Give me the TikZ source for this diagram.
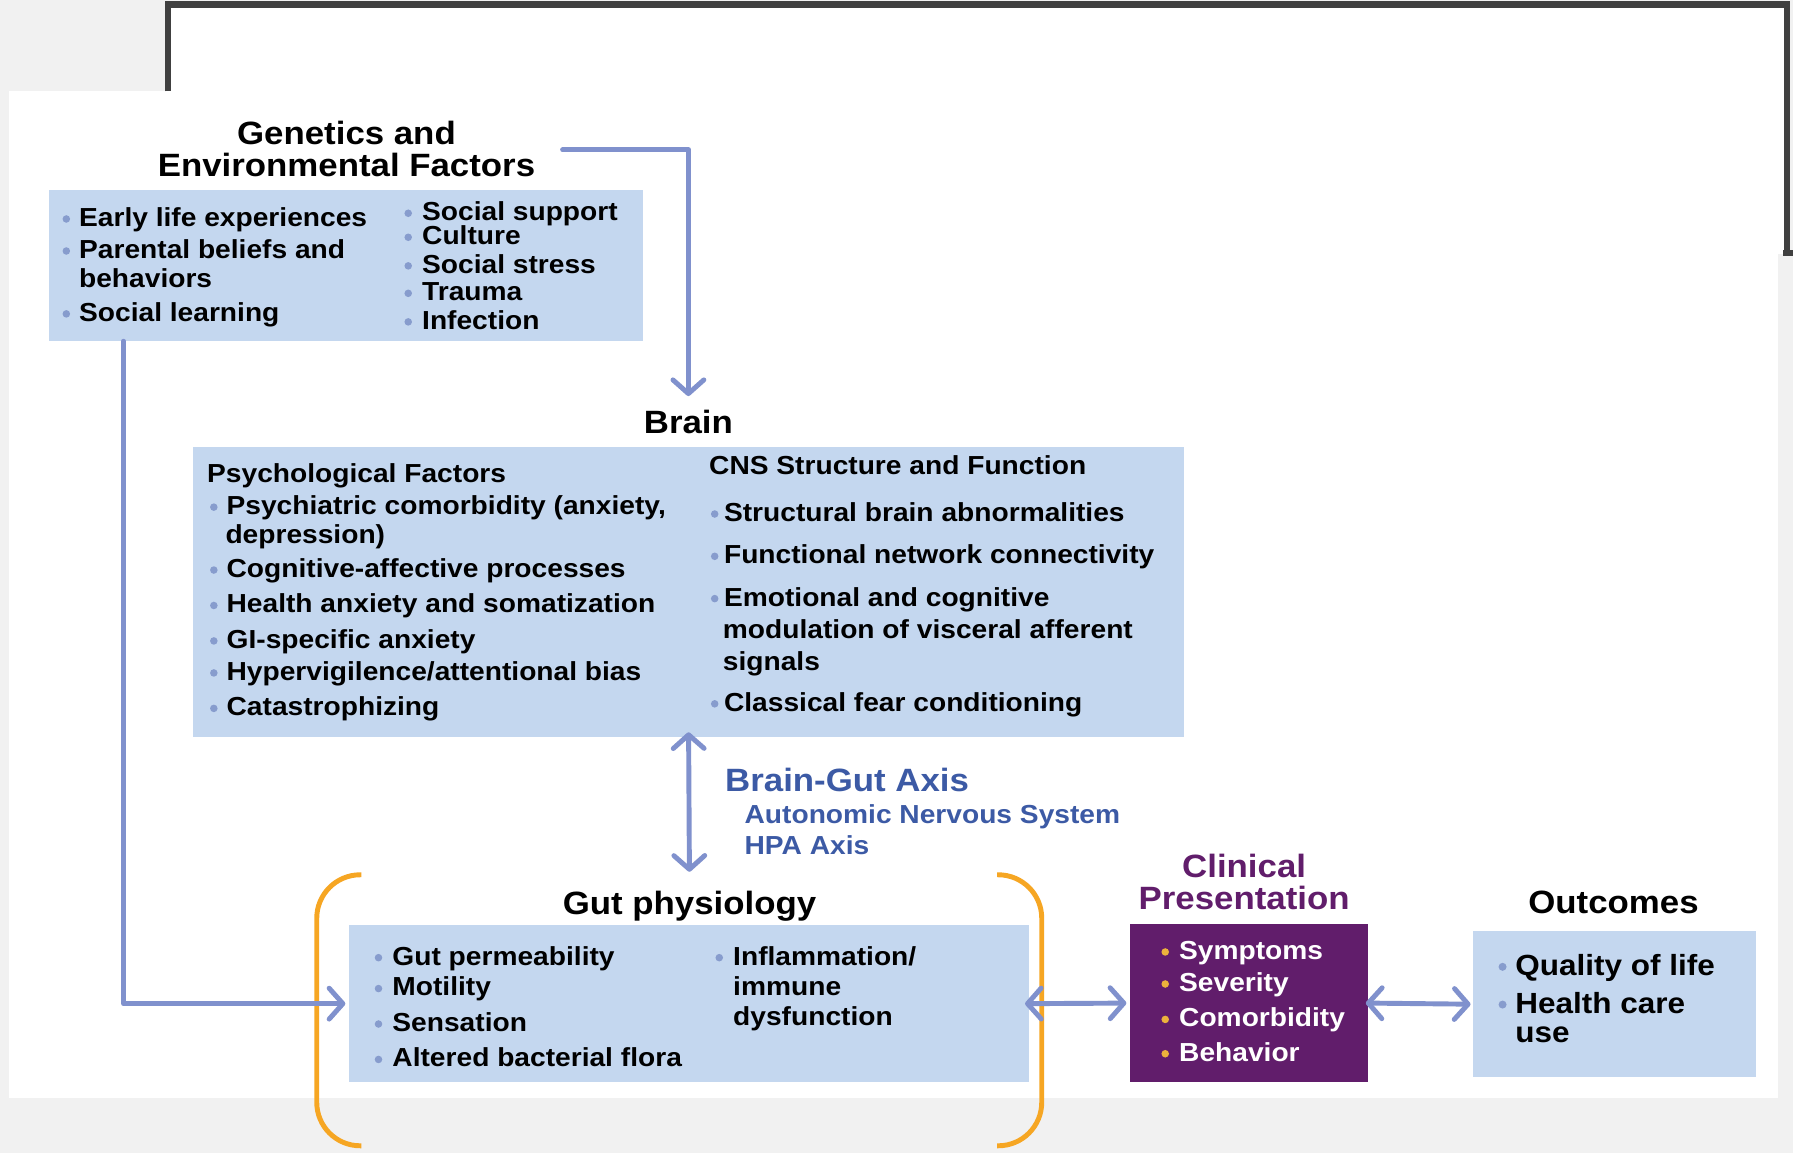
\documentclass[tikz,border=0pt]{standalone}
\usepackage{fontspec}
\setmainfont{Liberation Sans}[FakeStretch=1.08]
\usetikzlibrary{arrows.meta}
\definecolor{bgc}{RGB}{241,241,241}
\definecolor{framec}{RGB}{64,64,64}
\definecolor{boxc}{RGB}{196,215,239}
\definecolor{linec}{RGB}{128,145,205}
\definecolor{bulc}{RGB}{135,156,205}
\definecolor{purc}{RGB}{97,29,107}
\definecolor{orc}{RGB}{246,166,35}
\definecolor{axc}{RGB}{60,90,165}
\definecolor{obul}{RGB}{236,178,60}
\tikzset{
  box/.style={rectangle, fill=boxc, draw=none, anchor=north west, inner sep=0pt},
  body/.style={font=\fontsize{22.8}{25}\selectfont\bfseries, anchor=base west, inner sep=0pt, text=black},
  bigbody/.style={font=\fontsize{25.5}{28}\selectfont\bfseries, anchor=base west, inner sep=0pt, text=black},
  ttl/.style={font=\fontsize{28.2}{30}\selectfont\bfseries, anchor=base, inner sep=0pt, text=black},
  conn/.style={draw=linec, line width=4.3pt, line cap=round, line join=round},
  vtip/.tip={Straight Barb[length=12pt,width=27pt,round]},
  brk/.style={draw=orc, line width=4.3pt, rounded corners=38pt}
}
\newcommand{\bitem}[5]{%
  \fill[bulc] (#2,{#4-6.5}) circle (3.3);
  \node[body] (#1) at (#3,#4) {#5};}
\newcommand{\citem}[5]{%
  \fill[obul] (#2,{#4-6.5}) circle (3.3);
  \node[body, text=white] (#1) at (#3,#4) {#5};}
\newcommand{\oitem}[5]{%
  \fill[bulc] (#2,{#4-7.5}) circle (3.5);
  \node[bigbody] (#1) at (#3,#4) {#5};}
\begin{document}
\begin{tikzpicture}[x=1pt,y=-1pt]
\useasboundingbox (0,0) rectangle (1568,1008);
% background and panels
\fill[bgc] (0,0) rectangle (1568,1008);
\fill[white] (147,4) rectangle (1563,222);
\fill[white] (8,80) rectangle (1555,960);
\draw[framec, line width=5.5pt] (147,80) -- (147,4) -- (1563,4) -- (1563,222);
\fill[framec] (1559,219) rectangle (1568,224);

% boxes
\node[box, minimum width=519pt, minimum height=132pt] (genbox) at (43,166) {};
\node[box, minimum width=866pt, minimum height=253pt] (brainbox) at (169,391) {};
\node[box, minimum width=595pt, minimum height=137pt] (gutbox) at (305,809) {};
\node[box, fill=purc, minimum width=208pt, minimum height=138pt] (clinbox) at (988,808) {};
\node[box, minimum width=247pt, minimum height=128pt] (outbox) at (1288,814) {};

% titles
\node[ttl] (genT1) at (303,126) {Genetics and};
\node[ttl] (genT2) at (303,154) {Environmental Factors};
\node[ttl] (brainT) at (602,379) {Brain};
\node[ttl] (gutT) at (603,800) {Gut physiology};
\node[ttl, text=purc] (clinT1) at (1088,767) {Clinical};
\node[ttl, text=purc] (clinT2) at (1088,795) {Presentation};
\node[ttl] (outT) at (1411,799) {Outcomes};

% genetics items
\bitem{ge1}{58}{69}{198}{Early life experiences}
\bitem{ge2}{58}{69}{226}{Parental beliefs and}
\node[body] (ge2b) at (69,251) {behaviors};
\bitem{ge3}{58}{69}{281}{Social learning}
\bitem{ge4}{357}{369}{193}{Social support}
\bitem{ge5}{357}{369}{214}{Culture}
\bitem{ge6}{357}{369}{239}{Social stress}
\bitem{ge7}{357}{369}{263}{Trauma}
\bitem{ge8}{357}{369}{288}{Infection}

% brain items
\node[body] (psyH) at (181,422) {Psychological Factors};
\bitem{br1}{187}{198}{450}{Psychiatric comorbidity (anxiety,}
\node[body] (br1b) at (197,475) {depression)};
\bitem{br2}{187}{198}{505}{Cognitive-affective processes}
\bitem{br3}{187}{198}{536}{Health anxiety and somatization}
\bitem{br4}{187}{198}{567}{GI-specific anxiety}
\bitem{br5}{187}{198}{595}{Hypervigilence/attentional bias}
\bitem{br6}{187}{198}{626}{Catastrophizing}
\node[body] (cnsH) at (620,415) {CNS Structure and Function};
\bitem{cn1}{625}{633}{456}{Structural brain abnormalities}
\bitem{cn2}{625}{633}{493}{Functional network connectivity}
\bitem{cn3}{625}{633}{530}{Emotional and cognitive}
\node[body] (cn3b) at (632,558) {modulation of visceral afferent};
\node[body] (cn3c) at (632,586) {signals};
\bitem{cn4}{625}{633}{622}{Classical fear conditioning}

% brain-gut axis labels
\node[ttl, anchor=base west, text=axc] (axT) at (634,692) {Brain-Gut Axis};
\node[body, text=axc] (ax1) at (651,720) {Autonomic Nervous System};
\node[body, text=axc] (ax2) at (651,747) {HPA Axis};

% gut items
\bitem{gu1}{331}{343}{844}{Gut permeability}
\bitem{gu2}{331}{343}{871}{Motility}
\bitem{gu3}{331}{343}{902}{Sensation}
\bitem{gu4}{331}{343}{933}{Altered bacterial flora}
\bitem{gu5}{629}{641}{844}{Inflammation/}
\node[body] (gu5b) at (641,871) {immune};
\node[body] (gu5c) at (641,897) {dysfunction};

% clinical items
\citem{cl1}{1019}{1031}{839}{Symptoms}
\citem{cl2}{1019}{1031}{867}{Severity}
\citem{cl3}{1019}{1031}{898}{Comorbidity}
\citem{cl4}{1019}{1031}{928}{Behavior}

% outcomes items
\oitem{ou1}{1314}{1325}{853}{Quality of life}
\oitem{ou2}{1314}{1325}{886}{Health care}
\node[bigbody] (ou2b) at (1325,912) {use};

% orange brackets
\draw[brk] (316,765) -- (277,765) -- (277,1002) -- (316,1002);
\draw[brk] (872,765) -- (911,765) -- (911,1002) -- (872,1002);

% connectors
\coordinate (g2b) at (492,131);
\draw[conn, -{vtip}, shorten >=12pt] (g2b) -| (brainT.north);
\draw[conn, -{vtip}, shorten >=3pt] ([xshift=65pt]genbox.south west) |- (gutbox.west);
\draw[conn, {vtip}-{vtip}, shorten <=-4pt, shorten >=17pt] (brainbox.south) -- (gutT.north);
\draw[conn, {vtip}-{vtip}, shorten <=-4pt, shorten >=3pt] (gutbox.east) -- (clinbox.west);
\draw[conn, {vtip}-{vtip}, shorten <=-2pt, shorten >=2pt] (clinbox.east) -- (outbox.west);
\end{tikzpicture}
\end{document}
